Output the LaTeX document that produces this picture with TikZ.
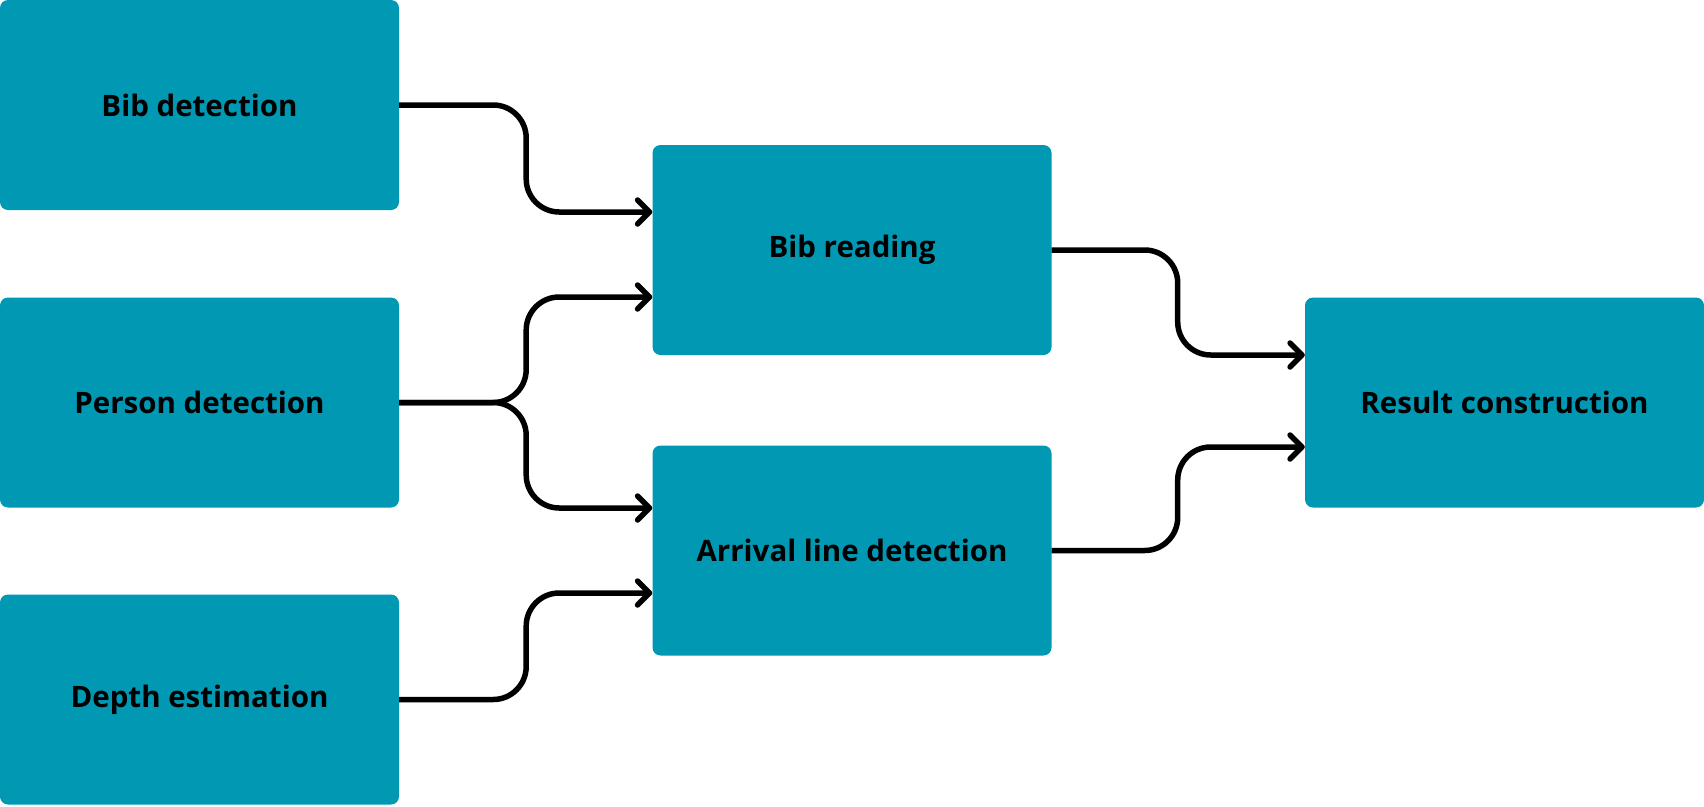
\documentclass[tikz,border=0pt]{standalone}
\usepackage{fontspec}
\setmainfont{Open Sans}
\usetikzlibrary{positioning,arrows.meta}
\definecolor{boxteal}{HTML}{0098B3}

\begin{document}
\begin{tikzpicture}[x=1pt,y=-1pt,
    stage/.style={fill=boxteal,rounded corners=8pt,minimum width=399pt,minimum height=210pt,
      inner sep=0pt,font=\fontsize{29.5}{36}\selectfont\bfseries},
    link/.style={line width=5.5pt,rounded corners=33pt,
      -{Straight Barb[length=12pt,width=24pt,line cap=round,line join=round]}}]
    \useasboundingbox (0,0) rectangle (1704,806);

    % vhodni koraki
    \node [stage] (bibdet) at (199.5,105) {Bib detection};
    \node [stage] (perdet) at (199.5,402.5) {Person detection};
    \node [stage] (depth) at (199.5,699.5) {Depth estimation};

    % vmesni koraki
    \node [stage] (bibread) at (852,250) {Bib reading};
    \node [stage] (arrival) at (852,550.5) {Arrival line detection};

    % rezultat
    \node [stage] (result) at (1504.5,402.5) {Result construction};

    % povezave
    \draw [link] (bibdet.east) -- ++(127,0) |- ([yshift=38pt]bibread.west);
    \draw [link] (perdet.east) -- ++(127,0) |- ([yshift=-47pt]bibread.west);
    \draw [link] (perdet.east) -- ++(127,0) |- ([yshift=42.5pt]arrival.west);
    \draw [link] (depth.east) -- ++(127,0) |- ([yshift=-42.5pt]arrival.west);
    \draw [link] (bibread.east) -- ++(126,0) |- ([yshift=47.5pt]result.west);
    \draw [link] (arrival.east) -- ++(126,0) |- ([yshift=-44.5pt]result.west);
  \end{tikzpicture}
\end{document}
